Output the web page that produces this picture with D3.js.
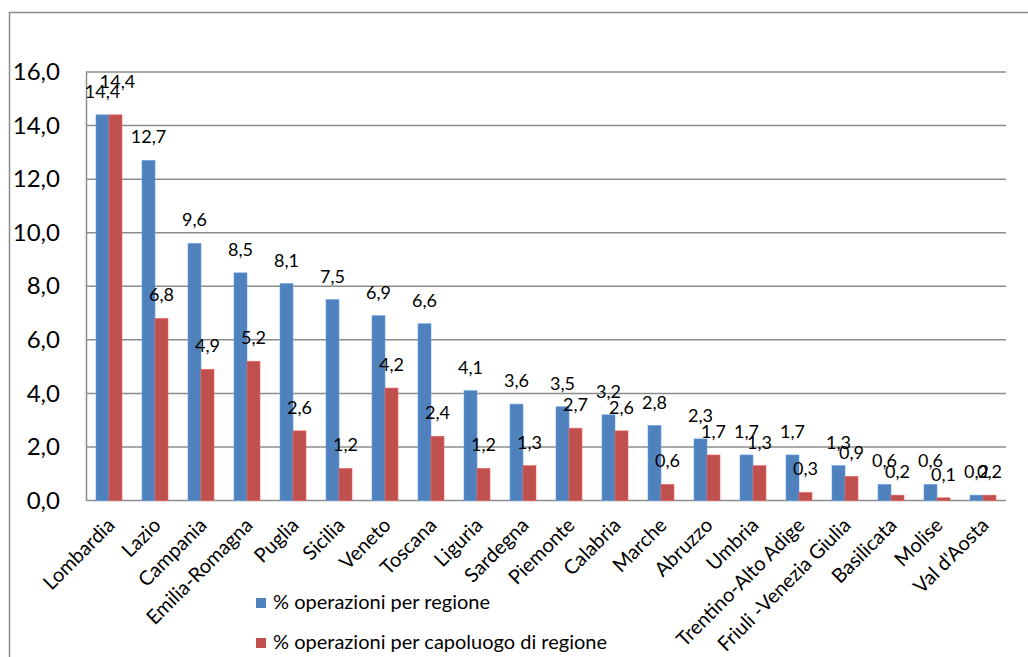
<!DOCTYPE html>
<html><head><meta charset="utf-8">
<script src="https://cdn.jsdelivr.net/npm/d3@7"></script>
<style>html,body{margin:0;padding:0;background:#fff;}svg{display:block;font-family:Lato, "Open Sans", sans-serif;}</style>
</head><body>
<svg id="c" width="1028" height="657"></svg>
<script>
const categories = ["Lombardia","Lazio","Campania","Emilia-Romagna","Puglia","Sicilia","Veneto","Toscana","Liguria","Sardegna","Piemonte","Calabria","Marche","Abruzzo","Umbria","Trentino-Alto Adige","Friuli -Venezia Giulia","Basilicata","Molise","Val d'Aosta"];
const seriesNames = ["% operazioni per regione","% operazioni per capoluogo di regione"];
const regione = [14.4,12.7,9.6,8.5,8.1,7.5,6.9,6.6,4.1,3.6,3.5,3.2,2.8,2.3,1.7,1.7,1.3,0.6,0.6,0.2];
const capoluogo = [14.4,6.8,4.9,5.2,2.6,1.2,4.2,2.4,1.2,1.3,2.7,2.6,0.6,1.7,1.3,0.3,0.9,0.2,0.1,0.2];
const yTicks = [0,2,4,6,8,10,12,14,16];
const colors = ["#4F81BD","#C0504D"];

const svg = d3.select("#c");
const fmt = v => d3.format(".1f")(v).replace(".", ",");

// outer chart border
svg.append("path").attr("d","M9.5,657 V12.5 H1028").attr("fill","none").attr("stroke","#8c8c8c").attr("stroke-width",1.5);

const pLeft = 86, pRight = 1006, pTop = 72, pBottom = 500.5;
const y = d3.scaleLinear().domain([0,16]).range([pBottom, pTop]);
const x = d3.scaleBand().domain(categories).range([pLeft, pRight]).paddingInner(0.435).paddingOuter(0.2175);
const xs = d3.scaleBand().domain([0,1]).range([0, x.bandwidth()]);

// gridlines
svg.append("g").selectAll("line").data(yTicks).join("line")
  .attr("x1", pLeft).attr("x2", pRight)
  .attr("y1", d => y(d)).attr("y2", d => y(d))
  .attr("stroke", "#8c8c8c").attr("stroke-width", 1.5);

// y axis
const yAxis = d3.axisLeft(y).tickValues(yTicks).tickFormat(fmt).tickSize(0).tickPadding(26);
const ga = svg.append("g").attr("transform", `translate(${pLeft},0)`).call(yAxis);
ga.select(".domain").attr("stroke","#8c8c8c").attr("stroke-width",1.5);
ga.selectAll("text").attr("font-size", 24).attr("fill","#000").attr("font-family","Lato");

const data = categories.map((c,i) => ({c, vals:[regione[i], capoluogo[i]]}));

const groups = svg.append("g").selectAll("g").data(data).join("g")
  .attr("transform", d => `translate(${x(d.c)},0)`);
groups.selectAll("rect").data(d => d.vals.map((v,k)=>({v,k}))).join("rect")
  .attr("x", d => xs(d.k)).attr("width", xs.bandwidth())
  .attr("y", d => y(d.v)).attr("height", d => y(0) - y(d.v))
  .attr("fill", d => colors[d.k])
  .attr("stroke", d => d3.color(colors[d.k]).brighter(0.6)).attr("stroke-width", 0.6);
// data labels; second label lifted when two tall equal labels collide
groups.selectAll("text").data(d => d.vals.map((v,k)=>({v,k,other:d.vals[1-k]}))).join("text")
  .attr("x", d => xs(d.k) + xs.bandwidth()/2 + ((d.k===1 && d.v===d.other && d.v>10) ? 2 : 0))
  .attr("y", d => y(d.v) - 17 - ((d.k===1 && d.v===d.other && d.v>10) ? 10 : 0))
  .attr("text-anchor","middle").attr("font-size", 18).attr("fill","#000")
  .text(d => fmt(d.v));

// category labels
const gx = svg.append("g");
gx.selectAll("text").data(categories).join("text")
  .attr("transform", d => `translate(${x(d) + x.bandwidth()/2 + 7},${pBottom + 26}) rotate(-45)`)
  .attr("text-anchor","end").attr("font-size", 20).attr("fill","#000")
  .text(d => d);

// legend
const lg = svg.append("g").selectAll("g").data(seriesNames).join("g")
  .attr("transform", (d,i) => `translate(256,${598 + i*40})`);
lg.append("rect").attr("width",10).attr("height",10).attr("fill",(d,i)=>colors[i]);
lg.append("text").attr("x",17).attr("y",11).attr("font-size",20).attr("fill","#000").text(d=>d);
</script>
</body></html>
